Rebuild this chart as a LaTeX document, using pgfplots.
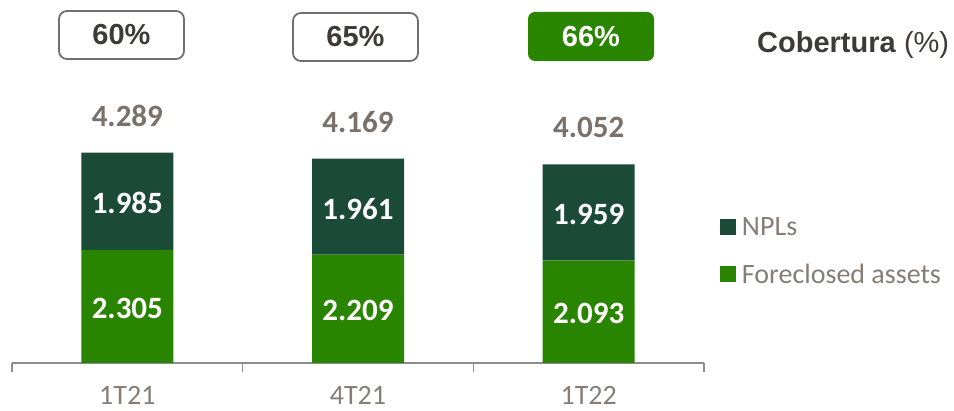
\documentclass[border=0pt]{standalone}
\usepackage{pgfplots}
\pgfplotsset{compat=1.18}
\usepackage{pgfplotstable}
\usepackage{fontspec}
\setmainfont{Carlito}
\newfontfamily\arial{Liberation Sans}
\definecolor{npl}{HTML}{1B4A38}
\definecolor{fore}{HTML}{298500}
\definecolor{txtgray}{HTML}{857D76}
\definecolor{totgray}{HTML}{79716A}
\definecolor{axgray}{HTML}{8C8C8C}
\definecolor{dark}{HTML}{3E3A37}
\definecolor{boxgray}{HTML}{707070}

% stock (millones) por trimestre
\pgfplotstableread{
x fore npl total
0 2305 1985 4289
1 2209 1961 4169
2 2093 1959 4052
}\cartera

\pgfplotsset{samebox/.style={
  anchor=south west, at={(0pt,0pt)},
  x=230.667pt, y=0.04902pt,
  xmin=-0.5, xmax=2.5, ymin=0, ymax=7405}}

\begin{document}
\begin{tikzpicture}
\useasboundingbox (-12pt,-48pt) rectangle (942pt,363pt);
\begin{axis}[
  samebox,
  ybar stacked, bar width=92pt,
  axis x line*=bottom, hide y axis,
  x axis line style={-, axgray, line width=1.3pt},
  xtick={0,1,2}, xticklabels={1T21,4T21,1T22},
  major tick length=0pt,
  xticklabel style={anchor=base, yshift=-41.5pt, inner sep=0pt,
    font=\fontsize{28}{30}\selectfont, text=txtgray},
  extra x ticks={-0.5,0.5,1.5,2.5}, extra x tick labels={},
  extra x tick style={major tick length=9pt, tick align=outside,
    major tick style={axgray, line width=1.3pt}},
  legend style={at={(1.0231,0.4055)}, anchor=north west, draw=none, fill=none,
    inner sep=0pt, outer sep=0pt, row sep=21.5pt,
    font=\fontsize{28}{30}\selectfont, text=txtgray,
    nodes={inner sep=0pt, text height=20pt, text depth=6pt},
    /tikz/every odd column/.append style={column sep=6pt}},
  legend cell align=left,
  reverse legend,
  legend image code/.code={\fill[#1] (0pt,-6pt) rectangle (16pt,10pt);},
]
\addplot[fill=fore, draw=none,
  visualization depends on={\thisrow{fore} \as \segval},
  nodes near coords={\pgfmathprintnumber[1000 sep={.}, assume math mode=true]{\segval}},
  every node near coord/.append style={anchor=center, yshift=-2pt,
    text=white, font=\bfseries\fontsize{31}{33}\selectfont}]
  table[x=x, y=fore] {\cartera};
\addlegendentry{Foreclosed assets}
\addplot[fill=npl, draw=none,
  visualization depends on={\thisrow{npl} \as \segval},
  nodes near coords={\pgfmathprintnumber[1000 sep={.}, assume math mode=true]{\segval}},
  every node near coord/.append style={anchor=center, yshift=-2pt,
    text=white, font=\bfseries\fontsize{31}{33}\selectfont}]
  table[x=x, y=npl] {\cartera};
\addlegendentry{NPLs}
\end{axis}
% totales sobre las barras
\begin{axis}[samebox, hide axis, clip=false]
\addplot[draw=none, mark=none, point meta=y,
  nodes near coords={\pgfmathprintnumber[1000 sep={.}, assume math mode=true]{\pgfplotspointmeta}},
  every node near coord/.append style={anchor=base, yshift=26.5pt, inner sep=0pt,
    text=totgray, font=\bfseries\fontsize{31}{33}\selectfont}]
  table[x=x, y=total] {\cartera};
\end{axis}
% cobertura
\node[draw=boxgray, line width=1.8pt, rounded corners=8pt, minimum width=125pt,
  minimum height=48pt, inner sep=0pt, text=dark,
  font=\arial\bfseries\fontsize{29}{31}\selectfont] at (109.5pt,328pt) {60\%};
\node[draw=boxgray, line width=1.8pt, rounded corners=8pt, minimum width=125pt,
  minimum height=48pt, inner sep=0pt, text=dark,
  font=\arial\bfseries\fontsize{29}{31}\selectfont] at (343.5pt,326pt) {65\%};
\node[fill=fore, rounded corners=7pt, minimum width=126pt,
  minimum height=49pt, inner sep=0pt, text=white,
  font=\arial\bfseries\fontsize{29}{31}\selectfont] at (579pt,326.5pt) {66\%};
\node[anchor=base west, inner sep=0pt, text=dark,
  font=\arial\fontsize{29}{31}\selectfont] at (745pt,310pt) {\textbf{Cobertura} (\%)};
\end{tikzpicture}
\end{document}
